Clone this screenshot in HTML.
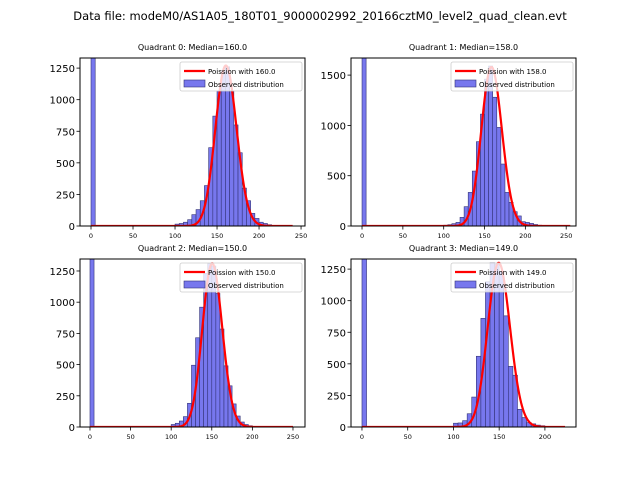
<!DOCTYPE html>
<html><head><meta charset="utf-8"><style>
body{margin:0;background:#fff;}
svg{font-family:"DejaVu Sans","Liberation Sans",sans-serif;}
</style></head><body>
<svg id="c" width="640" height="480">
<text x="320" y="20" font-size="11.5" text-anchor="middle">Data file: modeM0/AS1A05_180T01_9000002992_20166cztM0_level2_quad_clean.evt</text>
</svg>
<script>
const binStarts=[100,105,110,115,120,125,130,135,140,145,150,155,160,165,170,175,180,185,190,195,200,205,210,215,220,225];
const q0Counts=[15,20,30,50,90,130,200,320,620,870,1070,1230,1260,1070,800,580,300,200,100,60,30,20,10,5,3,2];
const q1Counts=[8,13,23,36,86,192,334,546,838,1112,1460,1590,1280,980,616,334,235,142,100,43,36,26,15,8,4,2];
const q2Counts=[20,30,48,83,190,495,715,960,1230,1310,1290,1070,785,490,330,185,88,40,20,10,5,0,0,0,0,0];
const q3Counts=[30,32,50,105,237,560,860,1150,1300,1290,1230,880,480,410,140,75,35,25,15,10,3,0,0,0,0,0];
const medians=[160,158,150,149];
const poissonPeaks=[1270,1580,1310,1300];
const zeroBin=[5000,5000,5000,5000];
const xMaxData=[240,255,250,222];
const yTicks=[[0,250,500,750,1000,1250],[0,500,1000,1500],[0,250,500,750,1000,1250],[0,250,500,750,1000,1250]];
const xTicks=[[0,50,100,150,200,250],[0,50,100,150,200,250],[0,50,100,150,200,250],[0,50,100,150,200]];
const allCounts=[q0Counts,q1Counts,q2Counts,q3Counts];
const boxes=[{l:80,t:58,w:225,h:168,x0:-13.1,x1:254.7,y1:1330},{l:351,t:58,w:225,h:168,x0:-13.5,x1:262,y1:1670},
{l:80,t:259,w:225,h:168,x0:-12.3,x1:264.8,y1:1346},{l:351,t:259,w:225,h:168,x0:-12,x1:234,y1:1330}];
const NS='http://www.w3.org/2000/svg';
const svg=document.getElementById('c');
function mk(tag,attrs,parent){const e=document.createElementNS(NS,tag);for(const k in attrs)e.setAttribute(k,attrs[k]);(parent||svg).appendChild(e);return e;}
function lgamma(n){if(n<2)return 0;return n*Math.log(n)-n+0.5*Math.log(2*Math.PI/n)+1/(12*n);}
function pois(k,l){return Math.exp(k*Math.log(l)-l-lgamma(k));}
boxes.forEach((b,i)=>{
  const sx=v=>b.l+(v-b.x0)/(b.x1-b.x0)*b.w;
  const sy=v=>b.t+b.h-Math.min(v,b.y1)/b.y1*b.h;
  const g=mk('g',{});
  
  
  const cl='clip'+i;
  const cp=mk('clipPath',{id:cl},g);mk('rect',{x:b.l,y:b.t,width:b.w,height:b.h},cp);
  const bars=mk('g',{'clip-path':'url(#'+cl+')'},g);
  const zb=mk('rect',{x:sx(0),y:sy(zeroBin[i]),width:sx(5)-sx(0),height:sy(0)-sy(zeroBin[i]),fill:'#7777ee','stroke':'#333377','stroke-width':0.6},bars);
  
  
  allCounts[i].forEach((c,j)=>{
    if(c<=0)return;
    const r=mk('rect',{x:sx(binStarts[j]),y:sy(c),width:sx(binStarts[j]+5)-sx(binStarts[j]),height:sy(0)-sy(c),fill:'#7777ee',stroke:'#333377','stroke-width':0.6},bars);
    
    
  });
  const lam=medians[i];const pk=pois(Math.round(lam),lam);
  let d='';
  for(let k=0;k<=xMaxData[i];k++){const v=poissonPeaks[i]*pois(k,lam)/pk;d+=(k?'L':'M')+sx(k).toFixed(2)+','+sy(v).toFixed(2);}
  const pl=mk('path',{d:d,fill:'none',stroke:'#ff0000','stroke-width':2.2,'stroke-linejoin':'round'},bars);
  
  
  mk('rect',{x:b.l,y:b.t,width:b.w,height:b.h,fill:'none',stroke:'#000','stroke-width':1},g);
  yTicks[i].forEach(t=>{const y=sy(t);mk('line',{x1:b.l-3.5,x2:b.l,y1:y,y2:y,stroke:'#000','stroke-width':0.8},g);
    const tx=mk('text',{x:b.l-5,y:y+4,'font-size':10,'text-anchor':'end'},g);tx.textContent=t;
    });
  xTicks[i].forEach(t=>{const x=sx(t);mk('line',{x1:x,x2:x,y1:b.t+b.h,y2:b.t+b.h+3.5,stroke:'#000','stroke-width':0.8},g);
    const tx=mk('text',{x:x,y:b.t+b.h+12,'font-size':6.5,'text-anchor':'middle'},g);tx.textContent=t;
    });
  const ti=mk('text',{x:b.l+b.w/2,y:b.t-8,'font-size':8,'text-anchor':'middle'},g);
  ti.textContent='Quadrant '+i+': Median='+medians[i].toFixed(1);
  
  const lg=mk('g',{},g);
  
  const lx=b.l+b.w-125,ly=b.t+4;
  mk('rect',{x:lx,y:ly,width:122,height:29,fill:'#fff','fill-opacity':0.8,stroke:'#ccc','stroke-width':0.8,rx:2},lg);
  mk('line',{x1:lx+4,x2:lx+25,y1:ly+9,y2:ly+9,stroke:'#ff0000','stroke-width':2.2},lg);
  mk('rect',{x:lx+4,y:ly+18,width:21,height:7,fill:'#7777ee',stroke:'#333377','stroke-width':0.6},lg);
  const t1=mk('text',{x:lx+28,y:ly+12,'font-size':7},lg);t1.textContent='Poission with '+medians[i].toFixed(1);
  const t2=mk('text',{x:lx+28,y:ly+25,'font-size':7},lg);t2.textContent='Observed distribution';
});
</script>
</body></html>
